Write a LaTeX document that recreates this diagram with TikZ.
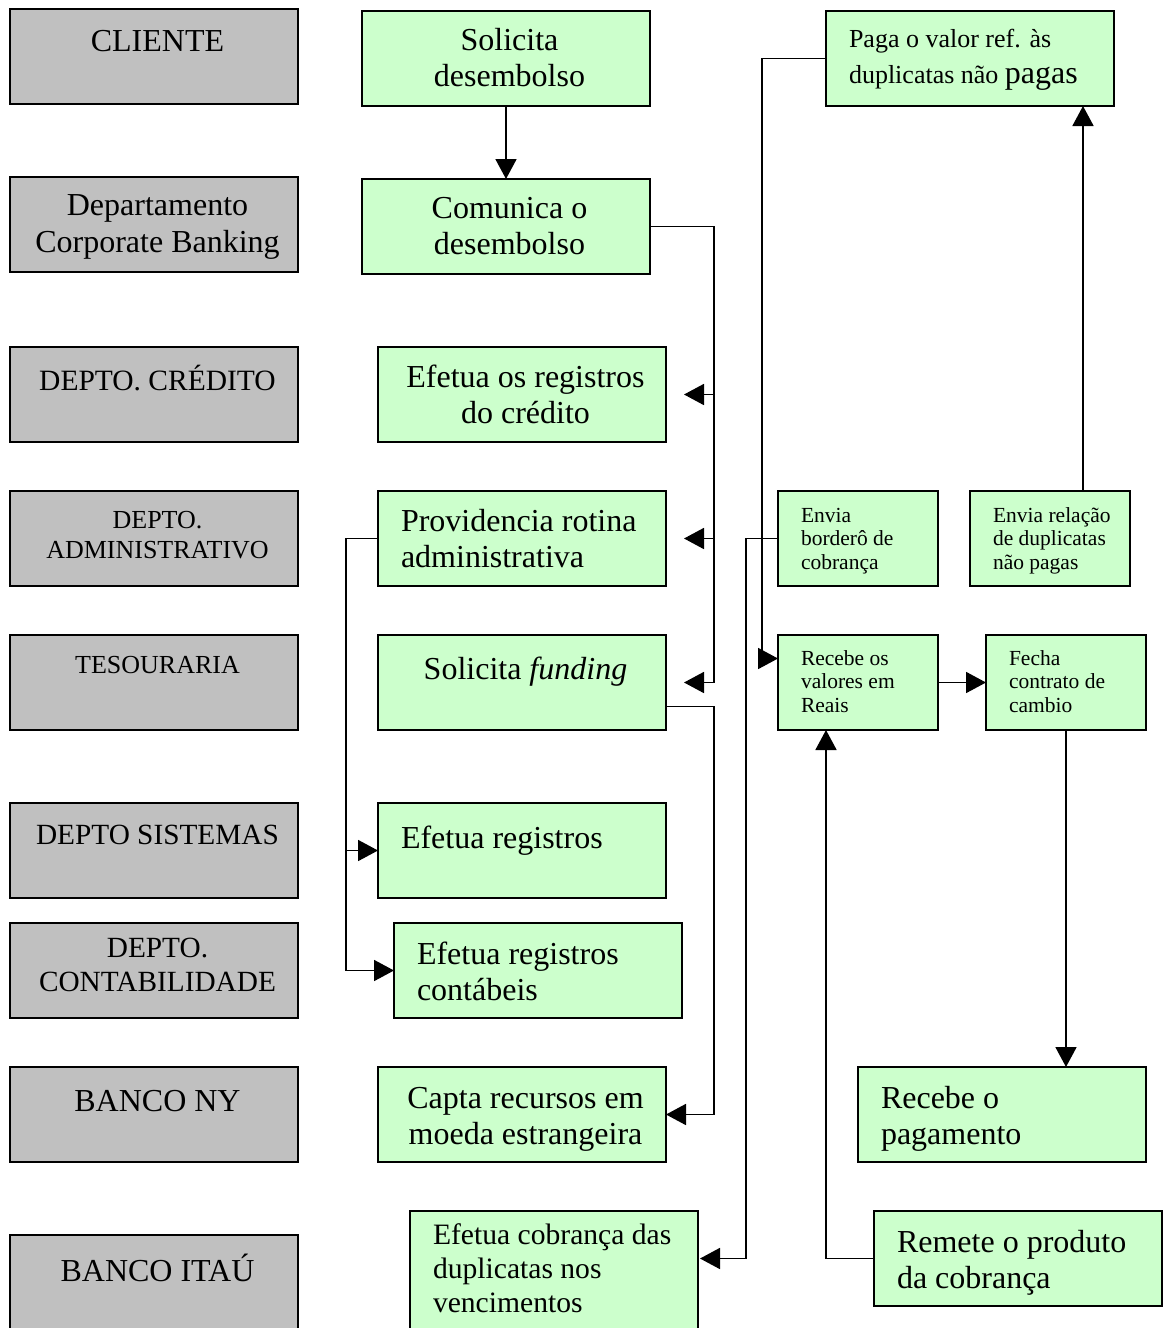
\documentclass[tikz,border=0pt]{standalone}
\usepackage{fontspec}
\setmainfont{Liberation Serif}
\usetikzlibrary{arrows.meta}
\definecolor{boxgreen}{HTML}{CCFFCC}
\definecolor{boxgray}{HTML}{C0C0C0}
\newcommand\fs[2]{\fontsize{#1}{#2}\selectfont}
\newcommand\bxt[5]{\parbox[c][#2pt][t]{#1pt}{#4\vspace*{\dimexpr #3pt-0.7\baselineskip\relax}\strut#5\par}}
\newcommand\lft{\raggedright\leftskip=23pt\relax}
\newcommand\ctr{\centering\leftskip=7pt plus 1fil\relax}
\begin{document}
\begin{tikzpicture}[x=1pt,y=-1pt,
  bx/.style={draw=black,line width=1.8pt,inner sep=0pt,outer sep=0pt,anchor=north west},
  gbox/.style={bx,fill=boxgray},
  vbox/.style={bx,fill=boxgreen},
  ln/.style={line width=1.8pt},
  arr/.style={ln,-{Triangle[length=20pt,width=21pt]}}]
\useasboundingbox (0,0) rectangle (1163,1328);
\clip (0,0) rectangle (1163,1328);

% gray column
\node[gbox] (cli) at (10,9)    {\bxt{288}{95}{42}{\fs{32}{36}\ctr}{CLIENTE}};
\node[gbox] (dcb) at (10,177)  {\bxt{288}{95}{38}{\fs{32}{37}\ctr}{Departamento\\Corporate Banking}};
\node[gbox] (dcr) at (10,347)  {\bxt{288}{95}{42}{\fs{29.5}{34}\ctr}{DEPTO. CRÉDITO}};
\node[gbox] (dad) at (10,491)  {\bxt{288}{95}{37}{\fs{26}{30}\ctr}{DEPTO.\\ADMINISTRATIVO}};
\node[gbox] (tes) at (10,635)  {\bxt{288}{95}{38}{\fs{26}{30}\ctr}{TESOURARIA}};
\node[gbox] (dsi) at (10,803)  {\bxt{288}{95}{41}{\fs{29.3}{34}\ctr}{DEPTO SISTEMAS}};
\node[gbox] (dco) at (10,923)  {\bxt{288}{95}{34}{\fs{29.3}{34}\ctr}{DEPTO.\\CONTABILIDADE}};
\node[gbox] (bny) at (10,1067) {\bxt{288}{95}{44}{\fs{32}{36}\ctr}{BANCO NY}};
\node[gbox] (bit) at (10,1235) {\bxt{288}{97}{44}{\fs{32}{36}\ctr}{BANCO ITAÚ}};

% green boxes
\node[vbox] (sol)  at (362,11)   {\bxt{288}{95}{39}{\fs{32}{36}\ctr}{Solicita\\desembolso}};
\node[vbox] (com)  at (362,179)  {\bxt{288}{95}{39}{\fs{32}{36}\ctr}{Comunica o\\desembolso}};
\node[vbox] (cre)  at (378,347)  {\bxt{288}{95}{40}{\fs{32}{36}\ctr}{Efetua os registros\\do crédito}};
\node[vbox] (prov) at (378,491)  {\bxt{288}{95}{40}{\fs{32}{36}\lft}{Providencia rotina\\administrativa}};
\node[vbox] (fun)  at (378,635)  {\bxt{288}{95}{44}{\fs{32}{36}\ctr}{Solicita \textit{funding}}};
\node[vbox] (reg)  at (378,803)  {\bxt{288}{95}{45}{\fs{32}{36}\lft}{Efetua registros}};
\node[vbox] (cont) at (394,923)  {\bxt{288}{95}{41}{\fs{32}{36}\lft}{Efetua registros\\contábeis}};
\node[vbox] (cap)  at (378,1067) {\bxt{288}{95}{41}{\fs{32}{36}\ctr}{Capta recursos em\\moeda estrangeira}};
\node[vbox] (cob)  at (410,1211) {\bxt{288}{130}{33}{\fs{29.6}{34}\lft}{Efetua cobrança das\\duplicatas nos\\vencimentos}};
\node[vbox] (paga) at (826,11)   {\bxt{288}{95}{36}{\fs{26}{36}\lft}{Paga o valor ref. às\\duplicatas não {\fs{32}{36}pagas}}};
\node[vbox] (bord) at (778,491)  {\bxt{160}{95}{31}{\fs{21.5}{23.5}\lft}{Envia\\borderô de\\cobrança}};
\node[vbox] (rel)  at (970,491)  {\bxt{160}{95}{31}{\fs{21.5}{23.5}\lft}{Envia relação\\de duplicatas\\não pagas}};
\node[vbox] (rec)  at (778,635)  {\bxt{160}{95}{30}{\fs{21.5}{23.5}\lft}{Recebe os\\valores em\\Reais}};
\node[vbox] (fec)  at (986,635)  {\bxt{160}{95}{30}{\fs{21.5}{23.5}\lft}{Fecha\\contrato de\\cambio}};
\node[vbox] (pag)  at (858,1067) {\bxt{288}{95}{41}{\fs{32}{36}\lft}{Recebe o\\pagamento}};
\node[vbox] (rem)  at (874,1211) {\bxt{288}{95}{41}{\fs{32}{36}\lft}{Remete o produto\\da cobrança}};

% connectors
\draw[arr] (sol.south) -- (com.north);

\coordinate (busA) at ([xshift=64pt]com.east);
\draw[arr] (com.east) -- (busA) |- ([xshift=18pt]fun.east);
\draw[arr] (busA |- cre.east) -- ([xshift=18pt]cre.east);
\draw[arr] (busA |- prov.east) -- ([xshift=18pt]prov.east);

\coordinate (busB) at ([xshift=-32pt]prov.west);
\draw[arr] (prov.west) -- (busB) |- (reg.west);
\draw[arr] (busB |- reg.west) |- (cont.west);

\coordinate (funOut) at ([yshift=-24pt]fun.east);
\draw[arr] (funOut) -- ++(48,0) |- (cap.east);

\coordinate (pagaL) at ([xshift=-64pt]paga.west);
\coordinate (recIn) at ([yshift=24pt]rec.west);
\draw[arr] (paga.west) -- (pagaL) |- (recIn);

\coordinate (bordL) at ([xshift=-32pt]bord.west);
\coordinate (cobIn) at ([xshift=2pt,yshift=-47.5pt]cob.north east);
\draw[arr] (bord.west) -- (bordL) |- (cobIn);

\coordinate (relT) at ([xshift=33pt]rel.north);
\draw[arr] (relT) -- (relT |- paga.south);

\draw[arr] (rec.east) -- (fec.west);
\draw[arr] (fec.south) -- (fec.south |- pag.north);

\coordinate (recB) at ([xshift=-32pt]rec.south);
\draw[arr] (rem.west) -| (recB);
\end{tikzpicture}
\end{document}
